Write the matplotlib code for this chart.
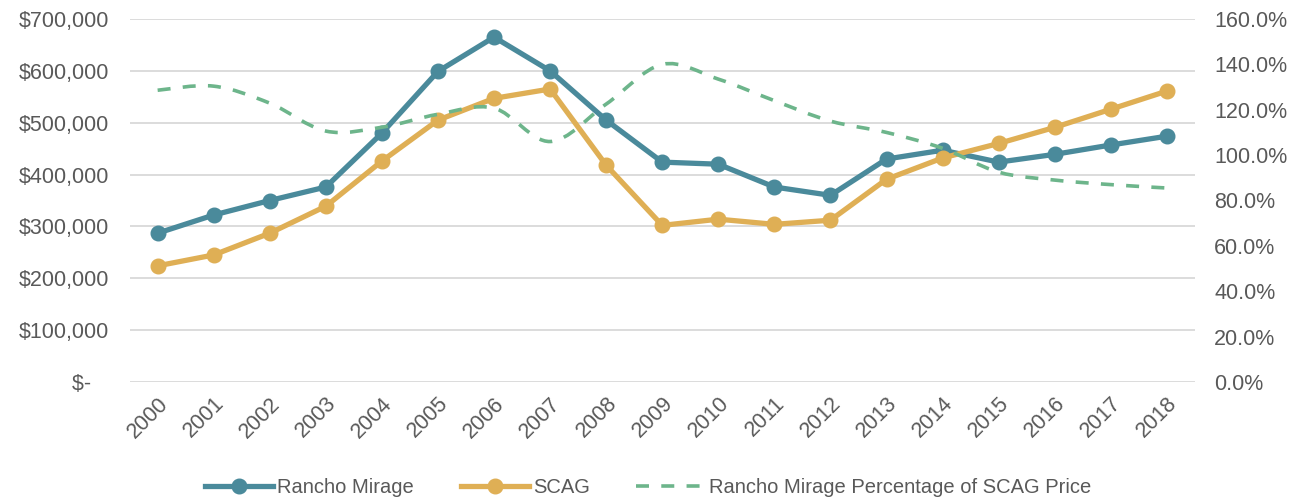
import matplotlib.pyplot as plt
from matplotlib.path import Path
from matplotlib.patches import PathPatch
from matplotlib.lines import Line2D
from matplotlib.ticker import FuncFormatter

# data
years = list(range(2000, 2019))
rancho = [287000, 322000, 350000, 376000, 480000, 599000, 665000, 600000, 505000, 424000,
          420000, 376000, 360000, 430000, 447000, 424000, 439000, 457000, 474000]
scag = [224000, 245000, 287000, 339000, 426000, 505000, 547000, 565000, 418000, 302000,
        314000, 304000, 312000, 391000, 432000, 460000, 491000, 526000, 561000]
pct = [1.286, 1.304, 1.229, 1.106, 1.123, 1.180, 1.207, 1.060, 1.225, 1.400,
       1.335, 1.240, 1.150, 1.100, 1.030, 0.925, 0.890, 0.870, 0.855]

teal = "#4A8A9B"
gold = "#DFAF55"
green = "#6DB58B"
grey = "#595959"

plt.rcParams['font.family'] = ['Liberation Sans', 'DejaVu Sans']

fig = plt.figure(figsize=(12.96, 5), dpi=100)
ax = fig.add_axes([0.100, 0.236, 0.822, 0.726])
ax2 = ax.twinx()

ax.plot(years, rancho, color=teal, lw=3.8, marker="o", ms=10.5, zorder=3)
ax.plot(years, scag, color=gold, lw=3.8, marker="o", ms=10.5, zorder=3)

# smoothed dashed line (bezier through the points, like Excel's smoothed line)
verts = [(years[0], pct[0])]
codes = [Path.MOVETO]
n = len(years)
for i in range(n - 1):
    p0 = (years[max(i - 1, 0)], pct[max(i - 1, 0)])
    p1 = (years[i], pct[i])
    p2 = (years[i + 1], pct[i + 1])
    p3 = (years[min(i + 2, n - 1)], pct[min(i + 2, n - 1)])
    c1 = (p1[0] + (p2[0] - p0[0]) / 6, p1[1] + (p2[1] - p0[1]) / 6)
    c2 = (p2[0] - (p3[0] - p1[0]) / 6, p2[1] - (p3[1] - p1[1]) / 6)
    verts += [c1, c2, p2]
    codes += [Path.CURVE4] * 3
ax2.add_patch(PathPatch(Path(verts, codes), fill=False, edgecolor=green, lw=2.6,
                        linestyle=(0, (3.6, 3.4)), zorder=2))

ax.set_xlim(1999.5, 2018.5)
ax.set_ylim(0, 700000)
ax2.set_ylim(0, 1.6)
ax.set_yticks(range(0, 700001, 100000))
ax2.set_yticks([i * 0.2 for i in range(9)])

ax.yaxis.set_major_formatter(FuncFormatter(lambda v, p: "$-   " if v == 0 else "${:,.0f}".format(v)))
ax2.yaxis.set_major_formatter(FuncFormatter(lambda v, p: "{:.1f}%".format(v * 100)))

ax.set_xticks(years)
ax.set_xticklabels([str(y) for y in years], rotation=45, ha="right", rotation_mode="anchor")

ax.grid(axis="y", color="#D9D9D9", lw=1.3)
ax.set_axisbelow(True)
for a in (ax, ax2):
    for s in a.spines.values():
        s.set_visible(False)
    a.tick_params(length=0, colors=grey, labelsize=15.5)
ax.tick_params(axis="y", pad=15)
ax2.tick_params(axis="y", pad=14)
ax.tick_params(axis="x", pad=8)

handles = [
    Line2D([0, 0.5, 1], [0, 0, 0], color=teal, lw=3.8, marker="o", ms=10.5, markevery=[1]),
    Line2D([0, 0.5, 1], [0, 0, 0], color=gold, lw=3.8, marker="o", ms=10.5, markevery=[1]),
    Line2D([], [], color=green, lw=2.6, linestyle=(0, (3.6, 3.4))),
]
leg = fig.legend(handles, ["Rancho Mirage", "SCAG", "Rancho Mirage Percentage of SCAG Price"],
                 loc="lower center", bbox_to_anchor=(0.5, -0.03), ncol=3, frameon=False,
                 fontsize=14.5, handlelength=3.4, columnspacing=2.3, handletextpad=0.2)
for t in leg.get_texts():
    t.set_color(grey)

fig.savefig("out.png", dpi=100)
